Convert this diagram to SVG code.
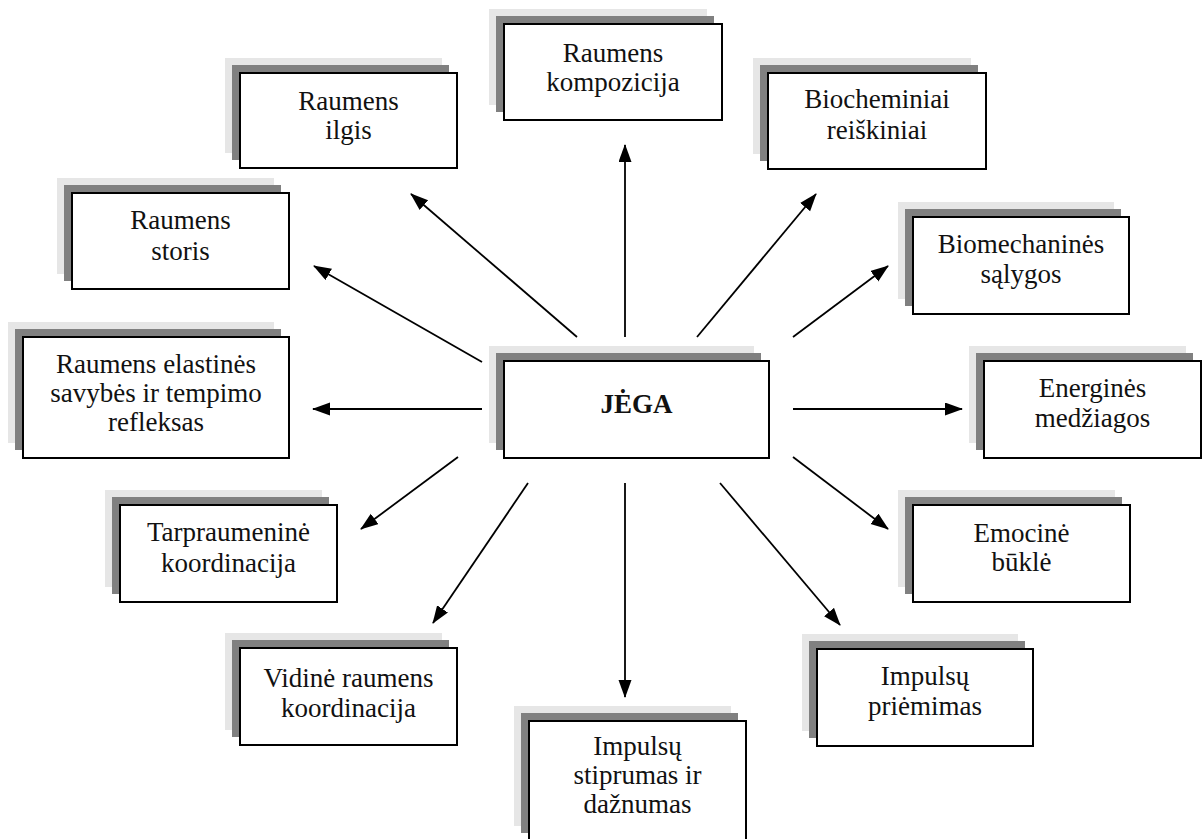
<svg xmlns="http://www.w3.org/2000/svg" width="1203" height="839" viewBox="0 0 1203 839">
<style>
.l{fill:#e6e6e6}
.d{fill:#808080}
.m{fill:#fff;stroke:#000;stroke-width:2}
text{font-family:"Liberation Serif","Times New Roman",serif;font-size:27px;fill:#111;text-anchor:middle}
.b{font-weight:bold}
.c line{stroke:#000;stroke-width:1.8;marker-end:url(#ah)}
</style>
<defs>
<marker id="ah" markerUnits="userSpaceOnUse" markerWidth="20" markerHeight="14" refX="17" refY="6.5" orient="auto">
<path d="M0,0 L18,6.5 L0,13 Z" fill="#000"/>
</marker>
</defs>
<rect width="1203" height="839" fill="#fff"/>

<g id="n-kompozicija">
<rect class="l" x="489" y="9" width="218" height="96"/>
<rect class="d" x="496" y="16" width="218" height="96"/>
<rect class="m" x="504" y="24" width="218" height="96"/>
<text x="613" y="62">Raumens</text>
<text x="613" y="91">kompozicija</text>
</g>

<g id="n-ilgis">
<rect class="l" x="225" y="58" width="217" height="95"/>
<rect class="d" x="232" y="65" width="217" height="95"/>
<rect class="m" x="240" y="73" width="217" height="95"/>
<text x="348.5" y="110">Raumens</text>
<text x="348.5" y="139">ilgis</text>
</g>

<g id="n-biocheminiai">
<rect class="l" x="753" y="58" width="218" height="96"/>
<rect class="d" x="760" y="65" width="218" height="96"/>
<rect class="m" x="768" y="73" width="218" height="96"/>
<text x="877" y="108">Biocheminiai</text>
<text x="877" y="139">reiškiniai</text>
</g>

<g id="n-storis">
<rect class="l" x="57" y="178" width="217" height="96"/>
<rect class="d" x="64" y="185" width="217" height="96"/>
<rect class="m" x="72" y="193" width="217" height="96"/>
<text x="180.5" y="229">Raumens</text>
<text x="180.5" y="260">storis</text>
</g>

<g id="n-biomechanines">
<rect class="l" x="898" y="202" width="216" height="97"/>
<rect class="d" x="905" y="209" width="216" height="97"/>
<rect class="m" x="913" y="217" width="216" height="97"/>
<text x="1021" y="253">Biomechaninės</text>
<text x="1021" y="283">sąlygos</text>
</g>

<g id="n-elastines">
<rect class="l" x="8" y="322" width="266" height="121"/>
<rect class="d" x="15" y="329" width="266" height="121"/>
<rect class="m" x="23" y="337" width="266" height="121"/>
<text x="156" y="373">Raumens elastinės</text>
<text x="156" y="402">savybės ir tempimo</text>
<text x="156" y="431">refleksas</text>
</g>

<g id="n-jega">
<rect class="l" x="489" y="346" width="265" height="97"/>
<rect class="d" x="496" y="353" width="265" height="97"/>
<rect class="m" x="504" y="361" width="265" height="97"/>
<text class="b" x="636.5" y="413">JĖGA</text>
</g>

<g id="n-energines">
<rect class="l" x="969" y="346" width="217" height="97"/>
<rect class="d" x="976" y="353" width="217" height="97"/>
<rect class="m" x="984" y="361" width="217" height="97"/>
<text x="1092.5" y="397">Energinės</text>
<text x="1092.5" y="427">medžiagos</text>
</g>

<g id="n-tarpraumenine">
<rect class="l" x="105" y="490" width="217" height="97"/>
<rect class="d" x="112" y="497" width="217" height="97"/>
<rect class="m" x="120" y="505" width="217" height="97"/>
<text x="228.5" y="541">Tarpraumeninė</text>
<text x="228.5" y="572">koordinacija</text>
</g>

<g id="n-emocine">
<rect class="l" x="898" y="490" width="217" height="97"/>
<rect class="d" x="905" y="497" width="217" height="97"/>
<rect class="m" x="913" y="505" width="217" height="97"/>
<text x="1021.5" y="542">Emocinė</text>
<text x="1021.5" y="571">būklė</text>
</g>

<g id="n-vidine">
<rect class="l" x="225" y="633" width="217" height="97"/>
<rect class="d" x="232" y="640" width="217" height="97"/>
<rect class="m" x="240" y="648" width="217" height="97"/>
<text x="348.5" y="687">Vidinė raumens</text>
<text x="348.5" y="717">koordinacija</text>
</g>

<g id="n-priemimas">
<rect class="l" x="802" y="634" width="216" height="97"/>
<rect class="d" x="809" y="641" width="216" height="97"/>
<rect class="m" x="817" y="649" width="216" height="97"/>
<text x="925" y="685">Impulsų</text>
<text x="925" y="715">priėmimas</text>
</g>

<g id="n-stiprumas">
<rect class="l" x="514" y="706" width="217" height="120"/>
<rect class="d" x="521" y="713" width="217" height="120"/>
<rect class="m" x="529" y="721" width="217" height="120"/>
<text x="637.5" y="755">Impulsų</text>
<text x="637.5" y="784">stiprumas ir</text>
<text x="637.5" y="813">dažnumas</text>
</g>

<g id="connectors" class="c">
<line x1="625" y1="337" x2="625" y2="145"/>
<line x1="577" y1="337" x2="411" y2="194"/>
<line x1="697" y1="337" x2="816" y2="194"/>
<line x1="482" y1="362" x2="314" y2="266"/>
<line x1="793" y1="337" x2="888" y2="266"/>
<line x1="482" y1="409" x2="313" y2="409"/>
<line x1="793" y1="409" x2="962" y2="409"/>
<line x1="458" y1="457" x2="361" y2="529"/>
<line x1="793" y1="457" x2="888" y2="529"/>
<line x1="528" y1="483" x2="433" y2="623"/>
<line x1="720" y1="483" x2="840" y2="625"/>
<line x1="625" y1="483" x2="625" y2="697"/>
</g>
</svg>
